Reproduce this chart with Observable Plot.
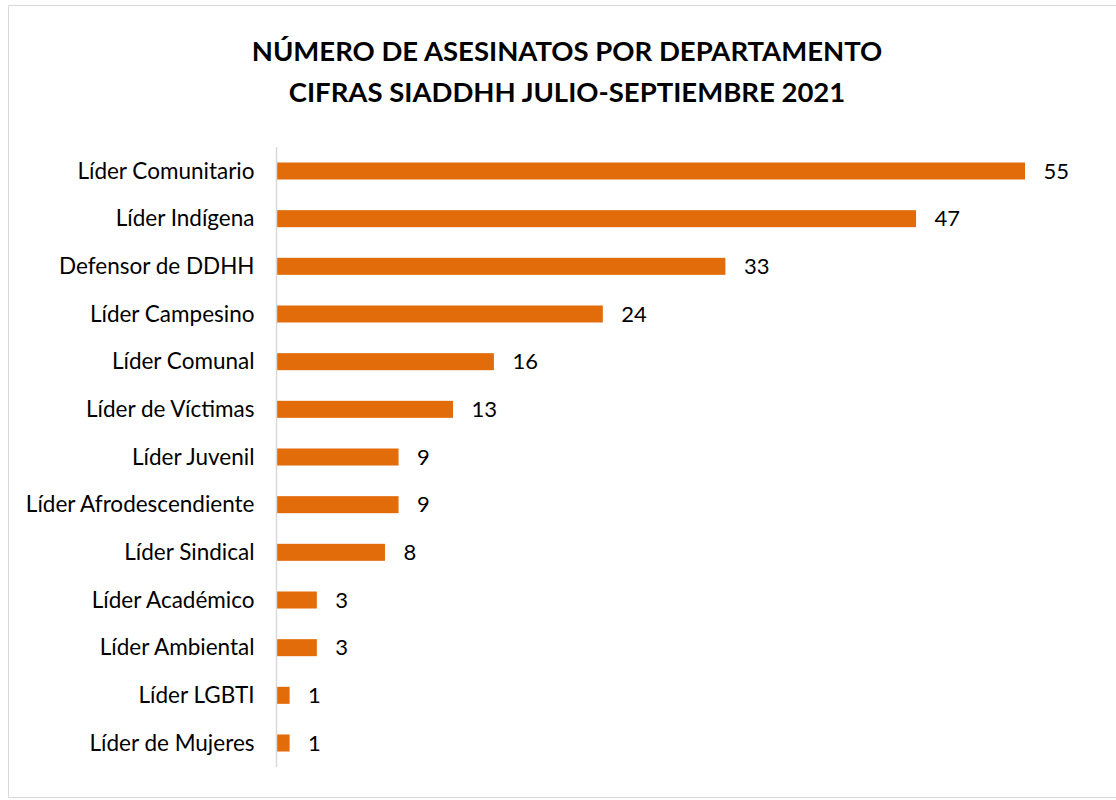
<!DOCTYPE html>
<html>
<head>
<meta charset="utf-8">
<script src="https://cdn.jsdelivr.net/npm/d3@7"></script>
<script src="https://cdn.jsdelivr.net/npm/@observablehq/plot@0.6"></script>
<style>
  html, body { margin: 0; padding: 0; background: #fff; }
  #frame { position: absolute; left: 8px; top: 5px; width: 1120px; height: 793px; border: 1px solid #d9d9d9; box-sizing: border-box; }
  #title { position: absolute; left: 0; top: 30px; width: 1134px; text-align: center; font-family: Lato, sans-serif; font-weight: bold; font-size: 27.5px; line-height: 41px; color: #000; }
  #chart { position: absolute; left: 0; top: 0; }
</style>
</head>
<body>
<div id="frame"></div>
<div id="title">NÚMERO DE ASESINATOS POR DEPARTAMENTO<br>CIFRAS SIADDHH JULIO-SEPTIEMBRE 2021</div>
<div id="chart"></div>
<script>
const categories = ["Líder Comunitario","Líder Indígena","Defensor de DDHH","Líder Campesino","Líder Comunal","Líder de Víctimas","Líder Juvenil","Líder Afrodescendiente","Líder Sindical","Líder Académico","Líder Ambiental","Líder LGBTI","Líder de Mujeres"];
const values = [55,47,33,24,16,13,9,9,8,3,3,1,1];
const data = categories.map((c, i) => ({category: c, value: values[i]}));

const chart = Plot.plot({
  width: 1116,
  height: 800,
  marginLeft: 276,
  marginRight: 91,
  marginTop: 147,
  marginBottom: 33,
  style: {fontFamily: "Lato, sans-serif", fontSize: "22.5px", color: "#000", background: "transparent"},
  x: {domain: [0, 55], axis: null},
  y: {domain: categories, paddingInner: 0.643, paddingOuter: 0.325, round: false, label: null, tickSize: 0, tickPadding: 22},
  marks: [
    Plot.barX(data, {y: "category", x: "value", fill: "#E36C0A"}),
    Plot.text(data, {y: "category", x: "value", text: d => String(d.value), textAnchor: "start", dx: 18, fontSize: 22, fill: "#000"}),
    Plot.ruleX([0], {stroke: "#d9d9d9", strokeWidth: 1.5})
  ]
});
document.getElementById("chart").appendChild(chart);
</script>
</body>
</html>
